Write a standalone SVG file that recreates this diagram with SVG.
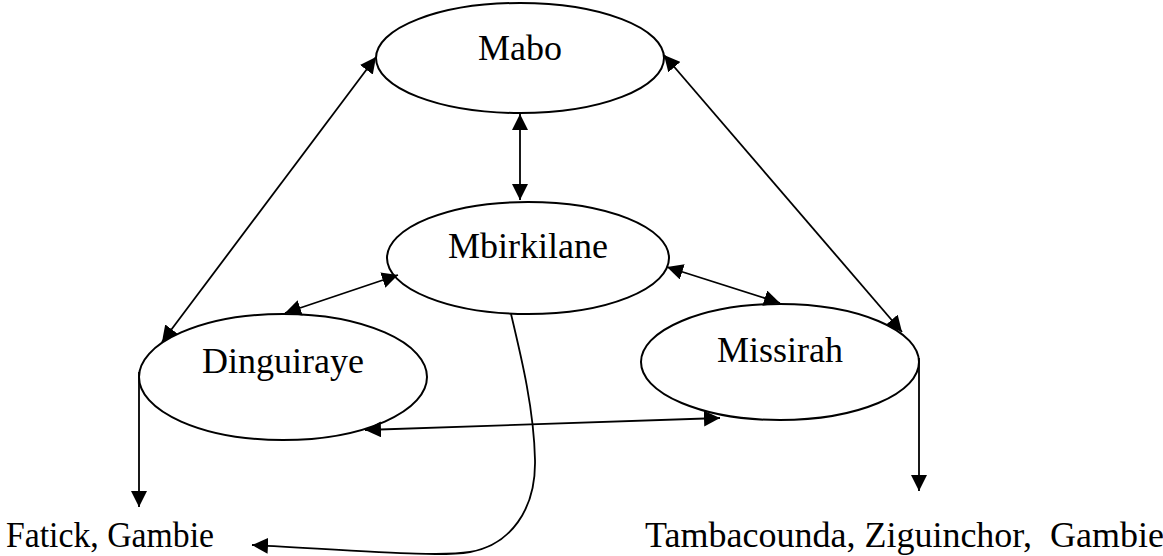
<svg xmlns="http://www.w3.org/2000/svg" width="1163" height="556" viewBox="0 0 1163 556">
<style>
.node{fill:#fff;stroke:#000;stroke-width:2}
.lbl{font-family:"Liberation Serif","Times New Roman",serif;font-size:36px;fill:#000}
.c{text-anchor:middle}
.edge{fill:none;stroke:#000;stroke-width:1.8}
</style>
<defs>
<marker id="ah" markerUnits="userSpaceOnUse" markerWidth="16" markerHeight="16" viewBox="0 0 15 15" refX="15" refY="7.5" orient="auto-start-reverse">
<path d="M0,0 L15,7.5 L0,15 z" fill="#000"/>
</marker>
</defs>
<rect width="1163" height="556" fill="#fff"/>
<g id="mabo"><ellipse class="node" cx="520" cy="58" rx="144" ry="55"/><text class="lbl c" x="520" y="60">Mabo</text></g>
<g id="mbirkilane"><ellipse class="node" cx="528" cy="258" rx="141" ry="56"/><text class="lbl c" x="528" y="258">Mbirkilane</text></g>
<g id="dinguiraye"><ellipse class="node" cx="283" cy="377" rx="144" ry="63"/><text class="lbl c" x="283" y="373">Dinguiraye</text></g>
<g id="missirah"><ellipse class="node" cx="780" cy="362" rx="139" ry="58"/><text class="lbl c" x="780" y="362">Missirah</text></g>
<g id="fatick"><text class="lbl" x="6" y="547" textLength="208" lengthAdjust="spacingAndGlyphs">Fatick, Gambie</text></g>
<g id="tambacounda"><text class="lbl" x="645" y="547" xml:space="preserve">Tambacounda, Ziguinchor,  Gambie</text></g>
<g id="connectors">
<line class="edge" x1="376" y1="57" x2="162" y2="342" marker-start="url(#ah)" marker-end="url(#ah)"/>
<line class="edge" x1="664" y1="55" x2="902" y2="332" marker-start="url(#ah)" marker-end="url(#ah)"/>
<line class="edge" x1="520" y1="114" x2="520" y2="200" marker-start="url(#ah)" marker-end="url(#ah)"/>
<line class="edge" x1="398" y1="275" x2="285" y2="313" marker-start="url(#ah)" marker-end="url(#ah)"/>
<line class="edge" x1="667" y1="267" x2="780" y2="303" marker-start="url(#ah)" marker-end="url(#ah)"/>
<line class="edge" x1="365" y1="430" x2="720" y2="418" marker-start="url(#ah)" marker-end="url(#ah)"/>
<polyline class="edge" points="139,372 139,507" marker-end="url(#ah)"/>
<polyline class="edge" points="919,358 919,491" marker-end="url(#ah)"/>
<path class="edge" d="M511,314 C522,360 534,410 535,460 C536,510 510,545 470,552 C440,557 380,552 252,545" marker-end="url(#ah)"/>
</g>
</svg>
